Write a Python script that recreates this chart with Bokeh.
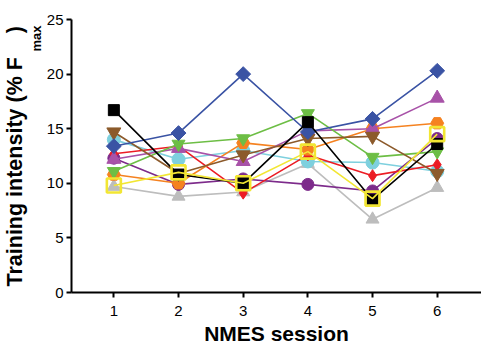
import math
from bokeh.plotting import figure
from bokeh.models import Range1d, FixedTicker, Title
from bokeh.embed import file_html
from bokeh.resources import INLINE

# ---- data ----
sessions = [1, 2, 3, 4, 5, 6]
x_ticks = [1, 2, 3, 4, 5, 6]
y_ticks = [0, 5, 10, 15, 20, 25]

gray_triangle   = [9.7, 8.8, 9.2, 11.8, 6.7, 9.6]
cyan_circle     = [14.0, 12.2, 13.0, 12.0, 11.9, 11.1]
purple_circle   = [12.3, 9.9, 10.4, 9.9, 9.3, 14.1]
red_diamond     = [12.7, 13.4, 9.1, 12.6, 10.7, 11.7]
orange_hex      = [10.8, 10.0, 13.7, 13.1, 15.0, 15.5]
magenta_tri     = [12.2, 13.2, 12.0, 14.8, 15.0, 17.8]
green_invtri    = [11.1, 13.6, 14.1, 16.4, 12.4, 12.9]
brown_invtri    = [14.7, 10.9, 12.6, 14.1, 14.3, 10.9]
blue_diamond    = [13.4, 14.6, 20.0, 14.7, 15.9, 20.3]
black_square    = [16.7, 10.8, 10.0, 15.6, 8.5, 13.6]
yellow_square   = [9.8, 11.0, 10.0, 12.9, 8.6, 14.5]

x_title = "NMES session"
y_title_main = "Training intensity (% F\u00a0\u00a0\u00a0\u00a0)"
y_title_sub = "max"

FONT = "Liberation Sans"

p = figure(width=481, height=347, output_backend="svg", toolbar_location=None,
           x_range=Range1d(0.345, 6.685), y_range=Range1d(0, 25),
           min_border_left=71, min_border_right=0, min_border_top=19,
           min_border_bottom=54)
p.outline_line_color = None
p.grid.visible = False
p.background_fill_color = "white"
p.border_fill_color = "white"

for ax in (p.xaxis[0], p.yaxis[0]):
    ax.axis_line_width = 2
    ax.axis_line_color = "black"
    ax.major_tick_line_width = 2
    ax.major_tick_line_color = "black"
    ax.major_tick_out = 5
    ax.major_tick_in = 0
    ax.minor_tick_line_color = None
    ax.major_label_text_font = FONT
    ax.major_label_text_font_size = "15px"
    ax.major_label_text_color = "black"

p.xaxis[0].ticker = FixedTicker(ticks=x_ticks)
p.yaxis[0].ticker = FixedTicker(ticks=y_ticks)
p.xaxis[0].major_label_standoff = 8
p.yaxis[0].major_label_standoff = 3

p.xaxis[0].axis_label = x_title
p.xaxis[0].axis_label_text_font = FONT
p.xaxis[0].axis_label_text_font_size = "21px"
p.xaxis[0].axis_label_text_font_style = "bold"
p.xaxis[0].axis_label_text_color = "black"
p.xaxis[0].axis_label_standoff = 3
p.yaxis[0].axis_label = None

series = [
    (gray_triangle, "#BDBDBD", "triangle", 13, 0.0),
    (cyan_circle, "#7ED0DE", "circle", 13, 0.0),
    (purple_circle, "#7D2B8B", "circle", 12, 0.0),
    (red_diamond, "#EC1C24", "diamond", 12, 0.0),
    (orange_hex, "#F58220", "hex", 13, 0.0),
    (magenta_tri, "#A852A8", "triangle", 14, 0.0),
    (green_invtri, "#6DBE45", "inverted_triangle", 13, 0.0),
    (brown_invtri, "#8C5A2B", "inverted_triangle", 14, 0.0),
    (blue_diamond, "#3A53A4", "square", 10.5, math.pi / 4),
    (black_square, "#000000", "square", 11, 0.0),
]

for ys, col, mk, sz, ang in series:
    p.line(sessions, ys, line_color=col, line_width=1.6)
    p.scatter(sessions, ys, marker=mk, size=sz, angle=ang,
              fill_color=col, line_color=col, line_width=1)

p.line(sessions, yellow_square, line_color="#F2E633", line_width=1.6)
p.scatter(sessions, yellow_square, marker="square", size=14,
          fill_color=None, line_color="#F2E633", line_width=2.6)

# y-axis title built from two side titles (subscript sits nearer the axis)
t_sub = Title(text=y_title_sub, align="left", offset=241, text_font=FONT,
              text_font_size="13px", text_font_style="bold",
              text_color="black", standoff=0)
t_main = Title(text=y_title_main, align="left", offset=6, text_font=FONT,
               text_font_size="21.5px", text_font_style="bold",
               text_color="black", standoff=0)
p.add_layout(t_sub, "left")
p.add_layout(t_main, "left")

open("out.html", "w").write(file_html(p, INLINE))
